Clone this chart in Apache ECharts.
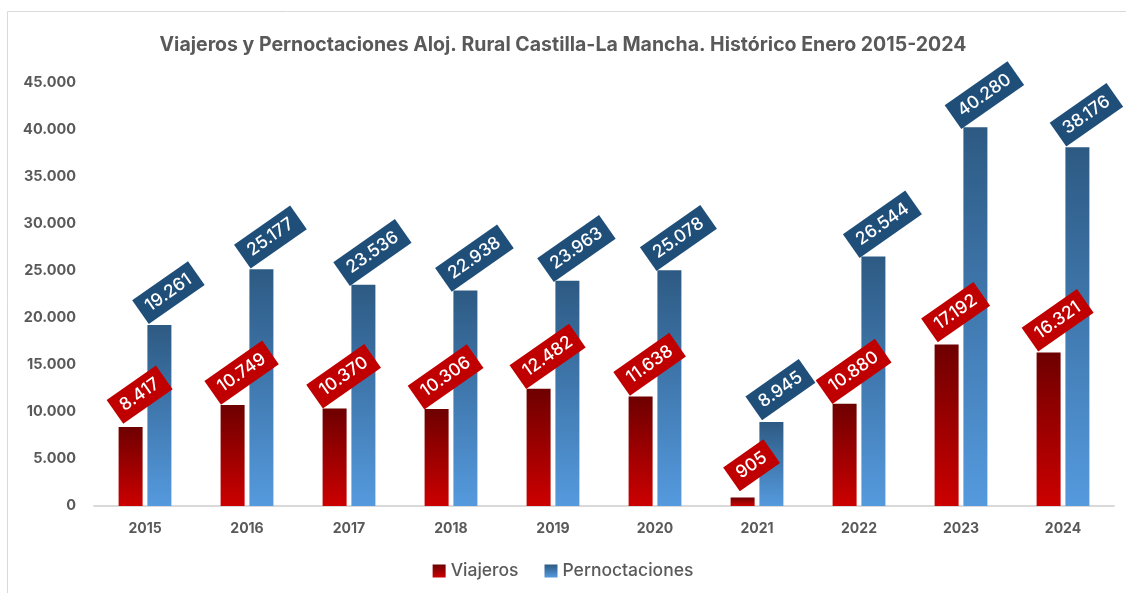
<!DOCTYPE html>
<html>
<head>
<meta charset="utf-8">
<script src="https://cdn.jsdelivr.net/npm/echarts@6/dist/echarts.min.js"></script>
<style>
  html, body { margin: 0; padding: 0; background: #fff; }
  #chart { width: 1126px; height: 593px; }
</style>
</head>
<body>
<div id="chart"></div>
<script>
const years = ['2015', '2016', '2017', '2018', '2019', '2020', '2021', '2022', '2023', '2024'];
const viajeros = [8417, 10749, 10370, 10306, 12482, 11638, 905, 10880, 17192, 16321];
const pernoctaciones = [19261, 25177, 23536, 22938, 23963, 25078, 8945, 26544, 40280, 38176];

const fmt = v => String(v).replace(/\B(?=(\d{3})+(?!\d))/g, '.');
const FONT = 'Inter, "Noto Sans", sans-serif';

const grad = (top, bottom) => new echarts.graphic.LinearGradient(0, 0, 0, 1, [
  { offset: 0, color: top },
  { offset: 1, color: bottom }
]);

// etiquetas giradas con fondo de color
const barLabel = bg => ({
  show: true,
  position: 'top',
  distance: 26,
  rotate: 35,
  offset: [11, 0],
  align: 'center',
  verticalAlign: 'middle',
  formatter: p => fmt(p.value),
  color: '#fff',
  fontFamily: FONT,
  fontWeight: 500,
  fontSize: 17.5,
  backgroundColor: bg,
  padding: [6, 8, 5, 8]
});

const chart = echarts.init(document.getElementById('chart'));
chart.setOption({
  animation: false,
  graphic: [{
    type: 'rect',
    shape: { x: 7.5, y: 11.5, width: 1200, height: 700 },
    style: { fill: 'none', stroke: '#d9d9d9', lineWidth: 1 },
    silent: true
  }],
  title: {
    text: 'Viajeros y Pernoctaciones Aloj. Rural Castilla-La Mancha. Histórico Enero 2015-2024',
    left: 'center',
    top: 30,
    textStyle: { color: '#595959', fontFamily: FONT, fontWeight: 'bold', fontSize: 19.5 }
  },
  legend: {
    bottom: 8,
    left: 'center',
    itemWidth: 13,
    itemHeight: 13,
    itemGap: 26,
    icon: 'rect',
    textStyle: { color: '#595959', fontFamily: FONT, fontSize: 17.5, fontWeight: 500 },
    data: ['Viajeros', 'Pernoctaciones']
  },
  grid: { left: 94, right: 12, top: 83, bottom: 87 },
  xAxis: {
    type: 'category',
    data: years,
    axisTick: { show: false },
    axisLine: { lineStyle: { color: '#d9d9d9', width: 2 } },
    axisLabel: { color: '#595959', fontFamily: FONT, fontWeight: 'bold', fontSize: 14, margin: 16 }
  },
  yAxis: {
    type: 'value',
    min: 0,
    max: 45000,
    interval: 5000,
    splitLine: { show: false },
    axisLabel: {
      color: '#595959', fontFamily: FONT, fontWeight: 'bold', fontSize: 14.5, margin: 18,
      formatter: v => fmt(v)
    }
  },
  series: [
    {
      name: 'Viajeros',
      type: 'bar',
      data: viajeros,
      barWidth: 24,
      barGap: '20%',
      itemStyle: { color: grad('#6e0000', '#cc0000') },
      label: barLabel('#c00000')
    },
    {
      name: 'Pernoctaciones',
      type: 'bar',
      data: pernoctaciones,
      barWidth: 24,
      itemStyle: { color: grad('#2d5a83', '#559ade') },
      label: barLabel('#1f4e79')
    }
  ]
});
</script>
</body>
</html>
